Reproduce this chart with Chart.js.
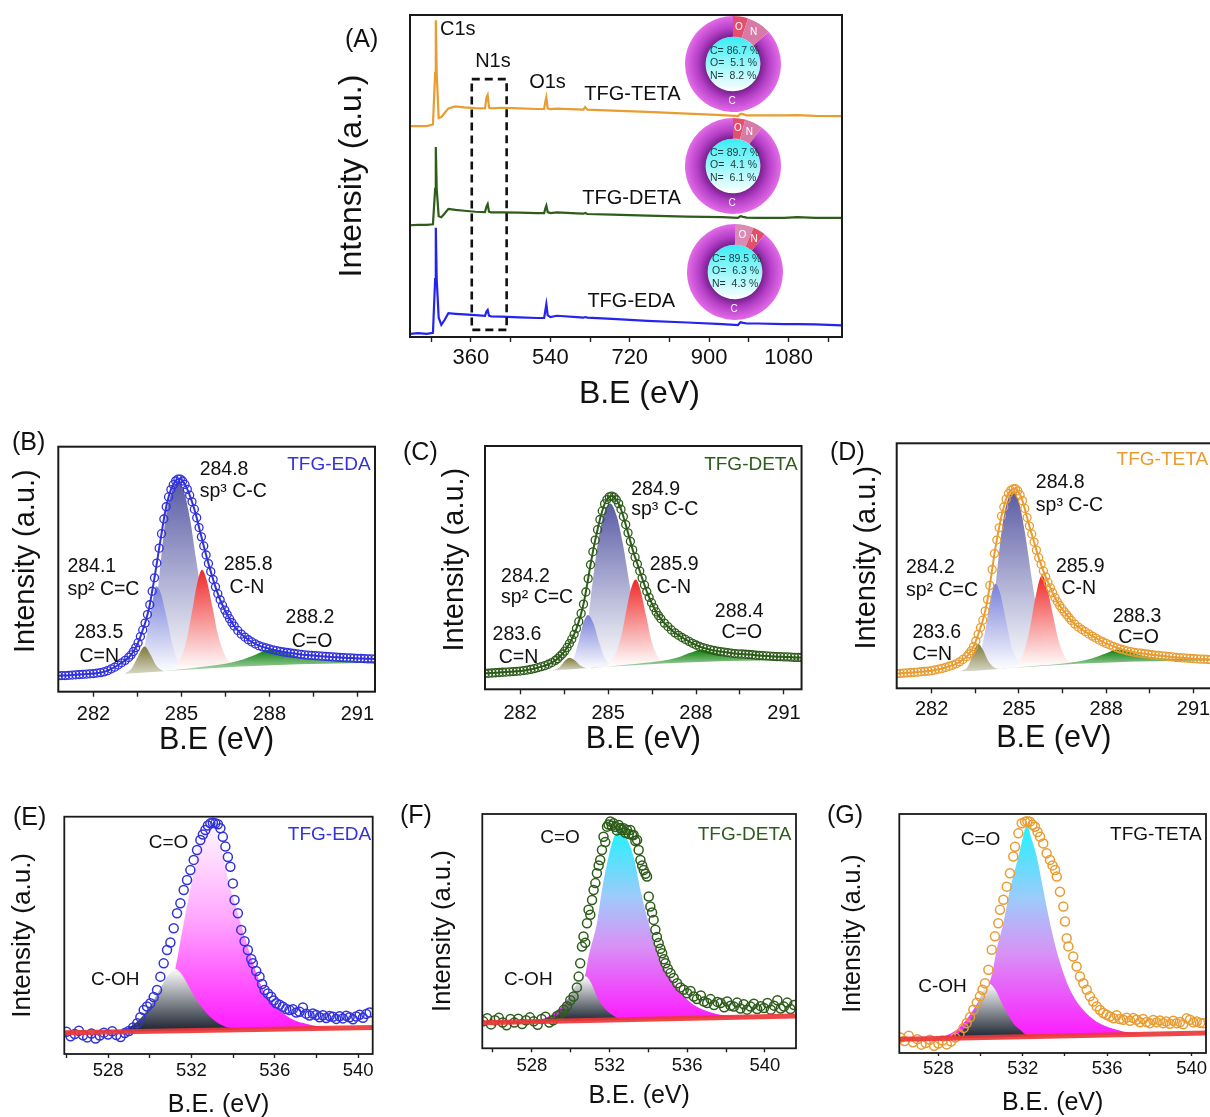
<!DOCTYPE html>
<html>
<head>
<meta charset="utf-8">
<script src="https://cdn.jsdelivr.net/npm/chart.js@4.4.1/dist/chart.umd.min.js"></script>
<style>
  html, body { margin: 0; padding: 0; background: #fff; }
  body { position: relative; width: 1210px; height: 1117px; overflow: hidden; }
  canvas { position: absolute; }
</style>
</head>
<body>
<canvas id="surveyChart"></canvas>
<canvas id="donutTeta"></canvas>
<canvas id="donutDeta"></canvas>
<canvas id="donutEda"></canvas>
<canvas id="c1sEdaChart"></canvas>
<canvas id="c1sDetaChart"></canvas>
<canvas id="c1sTetaChart"></canvas>
<canvas id="o1sEdaChart"></canvas>
<canvas id="o1sDetaChart"></canvas>
<canvas id="o1sTetaChart"></canvas>
<script>
// ---- survey spectra (A) ----
const surveyX = [222, 240, 260, 274, 279, 280.5, 282.5, 287, 293, 300, 309, 325, 345, 370, 392, 395.5, 398, 401, 406, 430,
  470, 510, 526, 528.5, 531, 534, 540, 555, 600, 615, 619, 624, 680, 760, 850, 930, 965, 971, 977, 985, 1010, 1070, 1100, 1140, 1201];
const surveyEda = [1.0, 1.2, 1.0, 1.3, 18, 33.9, 18, 6.0, 3.8, 5.2, 7.4, 7.2, 7.0, 6.8, 6.6, 8.0, 8.4, 6.6, 6.4, 6.3,
  6.1, 5.9, 5.9, 8.0, 10.2, 6.8, 6.2, 6.6, 6.2, 6.0, 6.2, 6.0, 5.6, 5.0, 4.5, 4.0, 3.7, 4.6, 4.4, 4.2, 4.2, 4.0, 4.0, 3.9, 3.6];
const surveyDeta = [34.7, 34.8, 34.8, 35.0, 46, 59.0, 46, 37.5, 37.2, 38.3, 39.8, 39.5, 39.2, 38.9, 38.8, 40.6, 41.3, 38.9, 38.7, 38.7,
  38.6, 38.5, 38.5, 39.8, 40.8, 38.8, 38.5, 38.7, 38.4, 38.3, 38.5, 38.2, 38.0, 37.7, 37.4, 37.2, 37.0, 37.5, 37.3, 37.1, 37.0, 37.0, 37.2, 37.0, 37.0];
const surveyTeta = [65.5, 65.5, 65.5, 66.0, 82, 98.4, 82, 68.0, 68.3, 69.5, 71.0, 71.6, 71.3, 71.1, 71.0, 74.5, 75.2, 71.2, 71.0, 71.2,
  71.0, 70.8, 70.8, 73.0, 74.5, 71.0, 70.8, 70.9, 70.7, 70.6, 71.4, 70.6, 70.3, 69.9, 69.4, 68.9, 68.6, 69.3, 69.2, 68.8, 68.8, 68.8, 68.9, 68.7, 68.6];
const surveyTicks = [360, 540, 720, 900, 1080];
const nBoxEnergy = [362, 441];
const nBoxLevel = [2.2, 80.1];

// element shares (O, N, C) for the doughnuts
const donutParts = ['O', 'N', 'C'];
const tetaShare = [5.1, 8.2, 86.7];
const detaShare = [4.1, 6.1, 89.7];
const edaShare = [6.3, 4.3, 89.5];

// ---- C1s (B, C, D) ----
const c1sTicks = [282, 285, 288, 291];
const c1sX = [280.8, 280.92, 281.04, 281.16, 281.28, 281.4, 281.52, 281.64, 281.76, 281.88, 282.0, 282.12, 282.24, 282.36, 282.48, 282.6, 282.72, 282.84, 282.96, 283.08, 283.2,
  283.28, 283.36, 283.44, 283.52, 283.6, 283.68, 283.76, 283.84, 283.92, 284.0, 284.08, 284.16, 284.24, 284.32, 284.4, 284.48, 284.56, 284.64, 284.72, 284.8,
  284.88, 284.96, 285.04, 285.12, 285.2, 285.28, 285.36, 285.44, 285.52, 285.6, 285.68, 285.76, 285.84, 285.92, 286.0, 286.08, 286.16, 286.24, 286.32, 286.4,
  286.48, 286.56, 286.64, 286.72, 286.8,
  286.92, 287.04, 287.16, 287.28, 287.4, 287.52, 287.64, 287.76, 287.88, 288.0, 288.12, 288.24, 288.36, 288.48, 288.6, 288.72, 288.84, 288.96, 289.08, 289.2,
  289.32, 289.44, 289.56, 289.68, 289.8, 289.92, 290.04, 290.16, 290.28, 290.4, 290.52, 290.64, 290.76, 290.88, 291.0, 291.12, 291.24, 291.36, 291.48, 291.6];
const edaC1s = [6.5, 6.6, 6.6, 6.7, 6.8, 6.9, 7.0, 7.1, 7.2, 7.3, 7.4, 7.6, 7.8, 8.1, 8.6, 9.3, 10.0, 10.9, 11.8, 12.8, 14.0,
  15.0, 16.4, 18.0, 20.0, 22.5, 25.2, 28.0, 31.5, 35.5, 41.0, 46.5, 52.5, 58.6, 64.5, 70.5, 75.5, 79.5, 82.5, 84.5, 86.0,
  86.8, 86.8, 86.0, 84.6, 82.6, 80.2, 77.5, 74.5, 71.0, 67.0, 63.2, 59.5, 55.8, 52.3, 49.0, 45.8, 42.8, 40.0, 37.5, 35.3,
  33.3, 31.5, 29.8, 28.2, 26.8,
  25.0, 23.5, 22.3, 21.2, 20.3, 19.5, 18.8, 18.3, 17.9, 17.5, 17.1, 16.8, 16.5, 16.2, 16.0, 15.8, 15.6, 15.4, 15.2, 15.0,
  14.9, 14.8, 14.7, 14.6, 14.5, 14.4, 14.3, 14.2, 14.1, 14.0, 13.9, 13.8, 13.8, 13.7, 13.6, 13.6, 13.5, 13.4, 13.4, 13.3];
const detaC1s = [6.5, 6.6, 6.7, 6.8, 6.9, 7.0, 7.1, 7.2, 7.3, 7.4, 7.5, 7.7, 7.9, 8.2, 8.5, 8.9, 9.3, 9.7, 10.3, 11.0, 11.9,
  12.6, 13.6, 14.5, 15.7, 17.2, 18.8, 20.6, 22.6, 25.0, 27.8, 31.2, 35.0, 40.0, 45.5, 51.2, 56.5, 61.3, 65.6, 69.8, 73.3,
  76.2, 78.0, 79.1, 79.4, 79.0, 77.9, 76.3, 74.0, 71.0, 67.7, 64.3, 60.8, 57.3, 54.3, 51.5, 48.6, 45.7, 42.9, 40.2, 37.8,
  35.6, 33.6, 31.8, 30.3, 29.0,
  27.2, 25.8, 24.4, 23.2, 22.2, 21.3, 20.5, 19.7, 18.9, 18.2, 17.6, 17.1, 16.7, 16.3, 16.0, 15.7, 15.5, 15.3, 15.1, 14.9,
  14.7, 14.6, 14.5, 14.4, 14.3, 14.2, 14.0, 13.9, 13.8, 13.7, 13.6, 13.5, 13.4, 13.4, 13.3, 13.3, 13.2, 13.1, 13.1, 13.0];
const tetaC1s = [6.0, 6.1, 6.2, 6.3, 6.4, 6.5, 6.6, 6.8, 6.9, 7.0, 7.2, 7.5, 7.8, 8.1, 8.5, 9.0, 9.4, 10.0, 10.8, 11.8, 12.9,
  14.0, 15.3, 17.0, 19.3, 22.0, 24.8, 27.8, 31.5, 36.2, 42.0, 48.5, 55.0, 60.5, 65.5, 70.3, 74.0, 77.2, 79.5, 80.8, 81.4,
  81.5, 80.6, 78.9, 76.6, 73.4, 69.7, 66.2, 63.0, 59.7, 56.4, 53.3, 50.6, 47.9, 45.5, 43.2, 41.0, 39.0, 37.0, 35.3, 33.8,
  32.5, 31.2, 30.0, 28.8, 27.7,
  26.2, 25.0, 24.0, 23.1, 22.2, 21.3, 20.5, 19.7, 19.0, 18.3, 17.7, 17.1, 16.6, 16.1, 15.7, 15.3, 15.0, 14.7, 14.5, 14.3,
  14.1, 13.9, 13.7, 13.5, 13.4, 13.2, 13.1, 12.9, 12.8, 12.6, 12.5, 12.4, 12.3, 12.2, 12.1, 12.0, 11.9, 11.9, 11.8, 11.7];

// fitted components, [eV, intensity]
const edaBase = [[280.8, 6.5], [282.5, 7.0], [283.5, 7.6], [285.0, 8.9], [287.0, 10.3], [289.0, 11.2], [291.6, 11.8]];
const edaSp3 = [[283.6, 7.7], [283.85, 12], [284.05, 25], [284.25, 48], [284.45, 70], [284.65, 81], [284.88, 85.5], [285.1, 81], [285.3, 70], [285.5, 54], [285.75, 35], [286.0, 21], [286.3, 13], [286.7, 10.1]];
const edaSp2 = [[283.3, 7.5], [283.6, 12], [283.8, 22], [284.0, 36], [284.14, 43], [284.3, 40], [284.5, 30], [284.7, 19], [284.9, 12], [285.2, 9.1]];
const edaCN = [[284.6, 8.6], [284.9, 12], [285.15, 20], [285.35, 32], [285.55, 45], [285.7, 49.8], [285.85, 46], [286.05, 35], [286.25, 23], [286.5, 14.5], [286.8, 11.0], [287.1, 10.4]];
const edaCdN = [[283.05, 7.3], [283.3, 9.5], [283.5, 14], [283.74, 18.5], [283.95, 15], [284.15, 10.5], [284.4, 8.3]];
const edaCO = [[284.2, 8.2], [285.0, 9.2], [285.8, 10.3], [286.5, 11.4], [287.0, 12.8], [287.5, 15.0], [288.0, 17.1], [288.5, 16.0], [289.0, 14.3], [289.5, 13.3], [290.2, 12.8], [291.6, 12.4]];

const detaBase = [[280.8, 6.5], [283.5, 8.0], [285.0, 9.3], [287.0, 10.7], [289.0, 11.6], [291.6, 12.0]];
const detaSp3 = [[283.8, 8.3], [284.05, 12], [284.25, 22], [284.45, 42], [284.65, 60], [284.85, 72], [285.07, 76.4], [285.3, 71], [285.5, 60], [285.75, 42], [286.0, 26], [286.25, 16], [286.55, 11.5], [286.9, 10.6]];
const detaSp2 = [[283.5, 8.0], [283.8, 12], [284.0, 20], [284.15, 27], [284.31, 30.5], [284.5, 27], [284.7, 19], [284.9, 12.5], [285.2, 9.6]];
const detaCN = [[284.9, 9.3], [285.2, 13], [285.45, 22], [285.65, 34], [285.8, 42], [285.94, 45.1], [286.1, 41], [286.3, 30], [286.5, 19], [286.75, 12.5], [287.1, 10.7]];
const detaCdN = [[283.1, 7.7], [283.35, 9.2], [283.55, 12], [283.68, 13], [283.85, 12], [284.05, 9.8], [284.3, 8.5]];
const detaCO = [[284.4, 8.6], [285.2, 9.6], [286.0, 10.5], [286.8, 11.6], [287.4, 13.2], [287.8, 15.0], [288.18, 16.3], [288.6, 15.2], [289.1, 13.6], [289.6, 12.8], [290.4, 12.5], [291.6, 12.4]];

const tetaBase = [[280.8, 6.0], [283.5, 7.2], [285.0, 8.5], [287.0, 10.0], [289.0, 10.9], [291.6, 11.3]];
const tetaSp3 = [[283.6, 7.3], [283.85, 12], [284.05, 25], [284.25, 48], [284.45, 68], [284.65, 78], [284.82, 80.1], [285.0, 76], [285.2, 64], [285.45, 44], [285.7, 26], [285.95, 15], [286.25, 10.5], [286.6, 9.6]];
const tetaSp2 = [[283.3, 7.1], [283.6, 11], [283.85, 24], [284.05, 38], [284.19, 42.7], [284.35, 39], [284.55, 28], [284.75, 17], [285.0, 10.5], [285.3, 8.8]];
const tetaCN = [[284.8, 8.4], [285.1, 12.5], [285.35, 23], [285.55, 36], [285.7, 44], [285.79, 46.1], [285.95, 42], [286.15, 31], [286.35, 20], [286.6, 12.5], [286.95, 10.0]];
const tetaCdN = [[283.0, 6.9], [283.25, 9.0], [283.45, 15], [283.59, 18.2], [283.75, 16], [283.95, 11], [284.2, 8.2], [284.4, 7.9]];
const tetaCO = [[284.4, 7.9], [285.2, 8.8], [286.0, 9.5], [286.8, 10.5], [287.5, 12.2], [288.0, 14.3], [288.41, 15.8], [288.8, 14.8], [289.3, 13.2], [289.9, 12.3], [290.6, 12.0], [291.6, 11.8]];

// ---- O1s (E, F, G) ----
const o1sTicks = [528, 532, 536, 540];
const edaO1sX = [526.0, 526.2, 526.4, 526.6, 526.8, 527.0, 527.2, 527.4, 527.6, 527.8, 528.0, 528.2, 528.4, 528.6, 528.8, 529.0, 529.2, 529.4,
  529.55, 529.71, 529.87, 530.03, 530.19, 530.35, 530.51, 530.67, 530.83, 530.99, 531.15, 531.31, 531.47, 531.63, 531.79, 531.95, 532.11, 532.27,
  532.43, 532.55, 532.67, 532.79, 532.91, 533.03, 533.15, 533.27, 533.39, 533.51, 533.63, 533.75, 533.87, 533.99, 534.07, 534.23, 534.39, 534.55,
  534.71, 534.87, 534.95, 535.11, 535.27, 535.39, 535.51, 535.67, 535.83, 535.95, 536.07, 536.23, 536.39, 536.55, 536.71, 536.87, 537.03, 537.19,
  537.35, 537.51, 537.67, 537.83, 537.99, 538.15, 538.31, 538.47, 538.63, 538.79, 538.95, 539.11, 539.27, 539.43, 539.59, 539.75, 539.91, 540.07,
  540.23, 540.39, 540.55];
const edaO1s = [9.4, 7.5, 8.4, 9.8, 7.9, 7.0, 8.6, 6.5, 7.8, 9.0, 8.2, 9.6, 8.0, 7.2, 8.8, 9.7, 11.2, 13.0,
  15.5, 18.5, 20.0, 21.4, 24.0, 27.0, 32.6, 38.2, 43.8, 47.0, 53.0, 59.3, 63.5, 69.1, 73.3, 77.5, 81.8, 86.0,
  90.2, 92.5, 94.4, 96.3, 97.2, 97.5, 97.2, 96.8, 95.1, 91.5, 87.4, 83.0, 78.9, 71.9, 64.9, 59.3, 52.3, 47.5,
  43.8, 40.0, 38.2, 35.0, 32.6, 29.5, 27.0, 25.5, 24.1, 22.5, 21.4, 20.8, 19.9, 19.0, 18.5, 18.9, 17.5, 17.8,
  19.6, 17.0, 16.2, 17.1, 16.4, 15.5, 16.3, 15.2, 16.0, 15.7, 14.8, 15.9, 15.0, 16.1, 15.5, 14.6, 15.8, 16.5,
  15.3, 16.9, 17.5];
const detaO1sX = [525.5, 525.7, 525.9, 526.1, 526.3, 526.5, 526.7, 526.9, 527.1, 527.3, 527.5, 527.7, 527.9, 528.1, 528.3, 528.5, 528.7, 528.9, 529.1, 529.3,
  529.46, 529.64, 529.81, 529.98, 530.15, 530.32, 530.41, 530.49, 530.58, 530.66, 530.75, 530.84, 530.92, 531.01, 531.1, 531.18, 531.27, 531.35, 531.44, 531.52,
  531.61, 531.69, 531.78, 531.87, 531.95, 532.04, 532.12, 532.21, 532.3, 532.38, 532.47, 532.56, 532.64, 532.73, 532.82, 532.9, 532.99, 533.07, 533.16, 533.24,
  533.33, 533.42, 533.5, 533.59, 533.68, 533.76, 533.85, 533.93, 534.02, 534.1, 534.19, 534.27, 534.36, 534.44, 534.53, 534.62, 534.71, 534.8, 534.88, 535.0,
  535.14, 535.3, 535.48, 535.65, 535.82, 536.0, 536.17, 536.34, 536.5, 536.7, 536.86, 537.03, 537.2, 537.38, 537.55, 537.72, 537.9, 538.06, 538.23, 538.4,
  538.57, 538.74, 538.91, 539.08, 539.26, 539.43, 539.6, 539.78, 539.95, 540.13, 540.3, 540.47, 540.64, 540.81, 540.98, 541.15, 541.32, 541.5];
const detaO1s = [11.5, 12.8, 10.2, 12.0, 13.0, 11.0, 9.8, 12.5, 11.0, 12.6, 10.4, 12.0, 13.2, 11.5, 10.0, 12.5, 13.5, 11.0, 12.0, 13.8,
  14.5, 16.4, 18.0, 20.5, 22.1, 26.0, 30.6, 36.3, 43.4, 47.7, 45.0, 53.4, 59.1, 57.0, 63.3, 67.6, 70.5, 74.7, 78.0, 80.4,
  84.6, 90.3, 88.0, 94.6, 95.5, 96.8, 95.0, 96.0, 94.5, 93.0, 95.3, 94.0, 93.2, 93.9, 92.0, 93.2, 91.5, 93.2, 91.0, 91.0,
  88.5, 88.9, 84.6, 80.4, 78.0, 76.1, 74.5, 73.3, 64.8, 60.5, 58.0, 54.8, 50.6, 47.5, 44.9, 42.5, 40.6, 38.0, 36.3, 34.0,
  32.1, 30.0, 27.8, 26.0, 25.0, 23.5, 24.5, 22.1, 21.0, 22.5, 20.0, 19.3, 21.0, 18.5, 19.8, 19.3, 17.5, 20.0, 18.2, 17.8,
  19.5, 17.0, 18.8, 16.5, 17.8, 19.0, 16.8, 18.0, 17.2, 19.3, 16.5, 18.2, 20.5, 17.0, 17.8, 19.5, 16.8, 18.5];
const tetaO1sX = [526.2, 526.4, 526.6, 526.8, 527.0, 527.2, 527.4, 527.6, 527.8, 528.0, 528.2, 528.4, 528.6, 528.8, 529.0, 529.2,
  529.34, 529.5, 529.66, 529.82, 529.97, 530.09, 530.21, 530.37, 530.53, 530.68, 530.84, 530.92, 531.08, 531.24, 531.39, 531.55, 531.63, 531.79, 531.95,
  532.11, 532.22, 532.34, 532.46, 532.58, 532.7, 532.82, 532.97, 533.13, 533.29, 533.41, 533.53, 533.61, 533.76, 533.92, 534.0, 534.08, 534.16, 534.39, 534.55,
  534.71, 534.87, 535.03, 535.18, 535.34, 535.5, 535.66, 535.81, 535.97, 536.13, 536.3, 536.45, 536.6, 536.76, 536.92, 537.08, 537.24, 537.39, 537.55, 537.7,
  537.86, 538.02, 538.18, 538.34, 538.5, 538.65, 538.8, 538.97, 539.13, 539.29, 539.45, 539.6, 539.76, 539.92, 540.08, 540.24, 540.4, 540.55];
const tetaO1s = [6.5, 5.0, 7.2, 4.5, 5.8, 3.5, 4.2, 5.5, 3.0, 4.0, 5.2, 3.6, 4.8, 6.5, 7.8, 10.5,
  12.5, 15.0, 18.1, 21.0, 23.7, 26.5, 29.2, 34.8, 43.2, 48.8, 54.3, 59.9, 64.1, 69.6, 75.2, 82.2, 86.3, 91.9, 96.1,
  96.8, 97.0, 96.8, 95.5, 94.7, 92.5, 90.5, 87.7, 83.6, 80.8, 78.5, 76.6, 73.8, 67.5, 61.3, 55.0, 48.0, 44.6, 40.4, 36.2,
  32.0, 29.2, 26.5, 23.7, 21.5, 19.5, 18.0, 16.7, 16.0, 15.3, 14.5, 15.8, 14.2, 13.9, 14.8, 13.5, 14.6, 13.9, 12.9, 14.2,
  13.0, 12.5, 13.8, 12.8, 13.6, 12.5, 13.2, 12.2, 13.5, 12.5, 13.0, 12.0, 14.5, 13.9, 12.8, 13.2, 12.6, 12.5];

const edaO1sBase = [[525.9, 9.0], [540.7, 11.2]];
const edaO1sCO = [[529.0, 9.6], [529.5, 10.5], [530.0, 13], [530.5, 19], [531.0, 29], [531.25, 37], [531.5, 49], [531.8, 63], [532.1, 76], [532.4, 89], [532.7, 95.5], [532.95, 96.5],
  [533.2, 94], [533.5, 84], [533.8, 72], [534.2, 60], [534.6, 48], [535.0, 37], [535.5, 26], [536.0, 20.5], [536.5, 16.5], [537.0, 14], [537.5, 12.8], [538.0, 11.8], [538.5, 11.3], [539.0, 11.0], [540.7, 11.2]];
const edaO1sCOH = [[528.5, 9.8], [529.0, 11.2], [529.5, 14.5], [530.0, 20], [530.5, 27.5], [530.9, 33.5], [531.2, 36], [531.5, 34], [531.9, 28], [532.3, 22], [532.7, 17.5], [533.2, 13.5], [533.7, 11.3], [534.5, 10.3]];
const detaO1sBase = [[525.45, 10.9], [541.6, 13.8]];
const detaO1sCO = [[527.5, 11.3], [528.4, 12.1], [529.3, 16.0], [529.9, 21.5], [530.4, 27.0], [530.75, 31.5], [530.92, 39.2], [531.35, 53.4], [531.61, 67.6], [531.95, 81.8], [532.25, 90.5], [532.56, 93.2],
  [532.85, 90.0], [533.24, 81.8], [533.59, 67.6], [534.02, 53.4], [534.53, 39.2], [535.31, 27.8], [535.8, 22.5], [536.34, 18.5], [537.37, 15.0], [538.2, 13.8], [539.5, 13.5], [541.6, 13.8]];
const detaO1sCOH = [[528.3, 11.3], [528.94, 12.2], [529.3, 14], [529.63, 17.8], [530.0, 23], [530.4, 28.5], [530.75, 30.8], [531.05, 28], [531.35, 22.1], [531.7, 17.5], [532.04, 14.8], [532.5, 12.6], [532.9, 12.0], [533.6, 12.4]];
const tetaO1sBase = [[526.15, 5.8], [540.7, 8.4]];
const tetaO1sCO = [[527.3, 6.0], [527.92, 6.4], [528.87, 9.7], [529.66, 18.1], [530.1, 25.0], [530.53, 32.5], [530.76, 43.2], [531.08, 54.3], [531.39, 68.3], [531.79, 82.2], [532.0, 90.0], [532.19, 95.4],
  [532.4, 90.0], [532.66, 82.2], [532.97, 68.3], [533.29, 54.3], [533.68, 40.4], [534.24, 26.5], [535.18, 15.3], [536.45, 9.7], [537.71, 8.0], [539.0, 8.0], [540.7, 8.4]];
const tetaO1sCOH = [[528.5, 6.3], [529.18, 9.7], [529.5, 13.5], [529.82, 19.5], [530.1, 25.5], [530.37, 29.2], [530.7, 26.5], [531.0, 21.0], [531.3, 16.0], [531.55, 12.5], [531.9, 9.5], [532.19, 7.5], [532.7, 7.2]];

// ---- styling ----
const FONT = '"Liberation Sans", Arial, Helvetica, sans-serif';
Chart.defaults.font.family = FONT;
Chart.defaults.color = '#111';

const EDA_BLUE = '#3232dc';
const DETA_GREEN = '#2e5c1a';
const TETA_ORANGE = '#e99c30';
const FADE_WHITE = 'rgba(255,255,255,0.95)';

function place(id, b) {
  const c = document.getElementById(id);
  c.width = b.w;
  c.height = b.h;
  c.style.left = b.x + 'px';
  c.style.top = b.y + 'px';
  return c;
}

function toPoints(xs, ys) {
  return xs.map((x, i) => ({x, y: ys[i]}));
}

function pairPoints(list) {
  return list.map(([x, y]) => ({x, y}));
}

// vertical gradient from a component's top down to its base
function fade(stops, topVal, botVal) {
  return (c) => {
    const chart = c.chart;
    const ys = chart.scales.y;
    if (!chart.chartArea || !ys) return stops[0][1];
    const y0 = ys.getPixelForValue(topVal);
    const y1 = ys.getPixelForValue(botVal);
    if (!isFinite(y0) || !isFinite(y1)) return stops[0][1];
    const g = chart.ctx.createLinearGradient(0, y0, 0, y1);
    stops.forEach(([o, col]) => g.addColorStop(o, col));
    return g;
  };
}

function xAxis(o) {
  return {
    type: 'linear', position: 'bottom', min: o.min, max: o.max,
    afterFit(s) { s.height = o.h; },
    border: {display: false},
    grid: {drawOnChartArea: false, drawTicks: true, tickLength: o.tickLen, tickWidth: 1.4, tickColor: '#222'},
    ticks: {
      stepSize: o.step, includeBounds: false, autoSkip: false, maxRotation: 0, minRotation: 0,
      padding: o.tickPad, color: '#111', font: {size: o.tickSize},
      callback: v => o.labels.includes(v) ? String(v) : ''
    },
    title: {display: true, text: o.title, color: '#111', font: {size: o.titleSize}, padding: {top: 0, bottom: o.titlePad}}
  };
}

function yAxis(o) {
  return {
    type: 'linear', position: 'left', min: 0, max: 100,
    afterFit(s) { s.width = o.w; },
    border: {display: false},
    grid: {display: false},
    ticks: {display: false},
    title: {display: true, text: o.title, color: '#111', font: {size: o.titleSize}, padding: {top: o.titlePad, bottom: 0}}
  };
}

function baseOptions(pad, scales) {
  return {
    responsive: false, animation: false, devicePixelRatio: 1, events: [],
    layout: {padding: {top: pad.t, right: pad.r, bottom: 0, left: 0}},
    plugins: {legend: {display: false}, tooltip: {enabled: false}},
    scales
  };
}

function framePlugin(width) {
  return {
    id: 'frame',
    afterDatasetsDraw(chart) {
      const {ctx, chartArea: a} = chart;
      ctx.save();
      ctx.strokeStyle = '#1a1a1a';
      ctx.lineWidth = width;
      ctx.strokeRect(a.left, a.top, a.right - a.left, a.bottom - a.top);
      ctx.restore();
    }
  };
}

function notesPlugin(notes, size, tag) {
  return {
    id: 'notes',
    afterDraw(chart) {
      const {ctx} = chart;
      const xs = chart.scales.x, ys = chart.scales.y;
      ctx.save();
      ctx.textBaseline = 'alphabetic';
      notes.forEach(n => {
        ctx.font = `${n.size || size}px ${FONT}`;
        ctx.fillStyle = n.color || '#111';
        ctx.textAlign = n.align || 'left';
        ctx.fillText(n.text, xs.getPixelForValue(n.x), ys.getPixelForValue(n.y));
      });
      if (tag) {
        ctx.font = `${tag.size}px ${FONT}`;
        ctx.fillStyle = '#111';
        ctx.textAlign = 'left';
        ctx.fillText(tag.text, tag.x, tag.y);
      }
      ctx.restore();
    }
  };
}

// ---- (A) survey ----
function initializeSurveyChart() {
  const box = {x: 330, y: 0, w: 520, h: 415};
  const canvas = place('surveyChart', box);
  const line = (ys, color) => ({
    data: toPoints(surveyX, ys), borderColor: color, borderWidth: 2.2, pointRadius: 0, tension: 0, fill: false, clip: 0
  });
  const boxPlugin = {
    id: 'nBox',
    afterDatasetsDraw(chart) {
      const {ctx, scales: {x, y}} = chart;
      const x0 = x.getPixelForValue(nBoxEnergy[0]), x1 = x.getPixelForValue(nBoxEnergy[1]);
      const y0 = y.getPixelForValue(nBoxLevel[1]), y1 = y.getPixelForValue(nBoxLevel[0]);
      ctx.save();
      ctx.setLineDash([8, 5]);
      ctx.lineWidth = 2.6;
      ctx.strokeStyle = '#111';
      ctx.strokeRect(x0, y0, x1 - x0, y1 - y0);
      ctx.restore();
    }
  };
  const notes = [
    {text: 'C1s', x: 290, y: 93.8},
    {text: 'N1s', x: 369.6, y: 83.9},
    {text: 'O1s', x: 492, y: 77.3},
    {text: 'TFG-TETA', x: 617, y: 73.6},
    {text: 'TFG-DETA', x: 612.6, y: 41.3},
    {text: 'TFG-EDA', x: 624, y: 9.3}
  ];
  new Chart(canvas, {
    type: 'line',
    data: {datasets: [line(surveyTeta, TETA_ORANGE), line(surveyDeta, DETA_GREEN), line(surveyEda, '#2424ee')]},
    options: baseOptions({t: 15, r: 8}, {
      x: xAxis({min: 222, max: 1201, step: 90, labels: surveyTicks, h: 78, tickLen: 5, tickPad: 3, tickSize: 22,
        title: '   B.E (eV)', titleSize: 32, titlePad: 2}),
      y: yAxis({w: 80, title: 'Intensity (a.u.)', titleSize: 32, titlePad: 3.3})
    }),
    plugins: [boxPlugin, framePlugin(2), notesPlugin(notes, 20, {text: '(A)', x: 15, y: 47, size: 25})]
  });
}

// ring + inner disc doughnuts
function ringColor(c, sliceColors) {
  if (c.dataIndex < 2) return sliceColors[c.dataIndex];
  const a = c.chart.chartArea;
  if (!a) return '#d35ddc';
  const cx = (a.left + a.right) / 2, cy = (a.top + a.bottom) / 2;
  const r = Math.min(a.right - a.left, a.bottom - a.top) / 2;
  const g = c.chart.ctx.createRadialGradient(cx, cy, r * 0.57, cx, cy, r);
  g.addColorStop(0, '#7a2090');
  g.addColorStop(0.4, '#b43fc6');
  g.addColorStop(1, '#e46ce9');
  return g;
}

function donutText(share) {
  return {
    id: 'donutText',
    beforeDatasetsDraw(chart) {
      const arc = chart.getDatasetMeta(0).data[0];
      if (!arc) return;
      const ctx = chart.ctx;
      const r = arc.innerRadius;
      const g = ctx.createLinearGradient(0, arc.y - r, 0, arc.y + r);
      g.addColorStop(0, '#36eef4');
      g.addColorStop(1, '#ffffff');
      ctx.save();
      ctx.beginPath();
      ctx.arc(arc.x, arc.y, r, 0, Math.PI * 2);
      ctx.fillStyle = g;
      ctx.fill();
      ctx.restore();
    },
    afterDatasetsDraw(chart) {
      const meta = chart.getDatasetMeta(0);
      const ctx = chart.ctx;
      const arc = meta.data[0];
      ctx.save();
      ctx.fillStyle = '#ffffff';
      ctx.font = `10px ${FONT}`;
      ctx.textAlign = 'center';
      ctx.textBaseline = 'middle';
      [0, 1].forEach(i => {
        const p = meta.data[i].getCenterPoint();
        ctx.fillText(donutParts[i], p.x, p.y);
      });
      ctx.fillText('C', arc.x - 1, arc.y + (arc.innerRadius + arc.outerRadius) / 2);
      ctx.fillStyle = '#183a3c';
      ctx.font = `10.5px ${FONT}`;
      ctx.textAlign = 'left';
      const lines = [`C= ${share[2]} %`, `O=  ${share[0]} %`, `N=  ${share[1]} %`];
      lines.forEach((t, k) => ctx.fillText(t, arc.x - 23, arc.y - 13 + k * 12.5));
      ctx.restore();
    }
  };
}

function initializeDonut(id, box, share, sliceColors) {
  const canvas = place(id, box);
  new Chart(canvas, {
    type: 'doughnut',
    data: {labels: donutParts, datasets: [{data: share, borderWidth: 0, backgroundColor: c => ringColor(c, sliceColors)}]},
    options: {
      responsive: false, animation: false, devicePixelRatio: 1, events: [], cutout: '57%',
      plugins: {legend: {display: false}, tooltip: {enabled: false}}
    },
    plugins: [donutText(share)]
  });
}

// ---- (B)(C)(D) C1s ----
function component(list, stops, order) {
  const ys = list.map(p => p[1]);
  return {
    data: pairPoints(list), borderWidth: 0, borderColor: 'rgba(0,0,0,0)', pointRadius: 0,
    cubicInterpolationMode: 'monotone', fill: {target: 7},
    backgroundColor: fade(stops, Math.max(...ys), Math.min(...ys)), order, clip: 0
  };
}

function initializeC1sChart(cfg) {
  const canvas = place(cfg.id, cfg.box);
  const counts = toPoints(c1sX, cfg.counts);
  const datasets = [
    {data: counts, showLine: false, pointStyle: 'circle', pointRadius: 4, pointBorderWidth: 1.3,
      pointBackgroundColor: 'rgba(0,0,0,0)', pointBorderColor: cfg.color, order: 1, clip: 0},
    {data: counts, borderColor: cfg.color, borderWidth: 2, pointRadius: 0, cubicInterpolationMode: 'monotone', fill: false, order: 0, clip: 0},
    component(cfg.co, [[0, '#0c800c'], [1, '#b8dcb8']], 2),
    component(cfg.cdn, [[0, '#7d7838'], [1, '#d6d6c4']], 3),
    component(cfg.cn, [[0, '#f02828'], [1, FADE_WHITE]], 4),
    component(cfg.sp2, [[0, '#7880da'], [1, FADE_WHITE]], 5),
    component(cfg.sp3, [[0, '#5a5ca6'], [1, FADE_WHITE]], 6),
    {data: pairPoints(cfg.base), borderColor: 'rgba(0,0,0,0)', borderWidth: 0, pointRadius: 0, fill: false, order: 7, clip: 0}
  ];
  new Chart(canvas, {
    type: 'line',
    data: {datasets},
    options: baseOptions(cfg.pad, {
      x: xAxis({min: 280.8, max: 291.6, step: 1.5, labels: c1sTicks, h: cfg.xh, tickLen: 5, tickPad: cfg.tickPad, tickSize: 20,
        title: 'B.E (eV)', titleSize: 30.5, titlePad: cfg.xTitlePad}),
      y: yAxis({w: cfg.yw, title: '  Intensity (a.u.)', titleSize: 29, titlePad: cfg.yTitlePad})
    }),
    plugins: [framePlugin(2), notesPlugin(cfg.notes, 19.5, cfg.tag)]
  });
}

// ---- (E)(F)(G) O1s ----
function o1sComponent(list, stops, order) {
  const ys = list.map(p => p[1]);
  return {
    data: pairPoints(list), borderWidth: 0, borderColor: 'rgba(0,0,0,0)', pointRadius: 0,
    cubicInterpolationMode: 'monotone', fill: {target: 0},
    backgroundColor: fade(stops, Math.max(...ys), Math.min(...ys)), order, clip: 0
  };
}

function initializeO1sChart(cfg) {
  const canvas = place(cfg.id, cfg.box);
  const datasets = [
    {data: pairPoints(cfg.base), borderColor: 'rgba(236,56,56,0.92)', borderWidth: 5, pointRadius: 0, fill: false, order: 0, clip: 0},
    {data: toPoints(cfg.xs, cfg.counts), showLine: false, pointStyle: 'circle', pointRadius: 4.5, pointBorderWidth: 1.5,
      pointBackgroundColor: 'rgba(0,0,0,0)', pointBorderColor: cfg.color, order: 1, clip: 0},
    o1sComponent(cfg.coh, [[0, '#ffffff'], [1, '#1b2330']], 2),
    o1sComponent(cfg.co, cfg.coStops, 3)
  ];
  new Chart(canvas, {
    type: 'line',
    data: {datasets},
    options: baseOptions(cfg.pad, {
      x: xAxis({min: cfg.min, max: cfg.max, step: 2, labels: o1sTicks, h: cfg.xh, tickLen: cfg.tickLen, tickPad: cfg.tickPad, tickSize: 18.5,
        title: 'B.E. (eV)', titleSize: 25, titlePad: cfg.xTitlePad}),
      y: yAxis({w: cfg.yw, title: 'Intensity (a.u.)', titleSize: cfg.yTitleSize, titlePad: cfg.yTitlePad})
    }),
    plugins: [framePlugin(1.8), notesPlugin(cfg.notes, 19, cfg.tag)]
  });
}

initializeSurveyChart();
initializeDonut('donutTeta', {x: 685, y: 16, w: 96, h: 96}, tetaShare, ['#e2506e', '#d77aa8']);
initializeDonut('donutDeta', {x: 685, y: 118, w: 96, h: 96}, detaShare, ['#e2506e', '#d77aa8']);
initializeDonut('donutEda', {x: 687, y: 224, w: 96, h: 96}, edaShare, ['#d98ab5', '#e0506a']);

initializeC1sChart({
  id: 'c1sEdaChart', box: {x: 0, y: 425, w: 385, h: 337}, pad: {t: 21.7, r: 10}, xh: 70.3, yw: 58.3,
  tickPad: 6, xTitlePad: 2.7, yTitlePad: 8.6, color: EDA_BLUE, counts: edaC1s,
  base: edaBase, sp3: edaSp3, sp2: edaSp2, cn: edaCN, cdn: edaCdN, co: edaCO,
  tag: {text: '(B)', x: 12, y: 24.5, size: 25},
  notes: [
    {text: '284.8', x: 285.62, y: 88.4}, {text: 'sp³ C-C', x: 285.62, y: 79.5},
    {text: '284.1', x: 281.11, y: 49}, {text: 'sp² C=C', x: 281.11, y: 39.5},
    {text: '285.8', x: 286.44, y: 49.7}, {text: 'C-N', x: 286.64, y: 40.3},
    {text: '288.2', x: 288.55, y: 28}, {text: 'C=O', x: 288.76, y: 18.4},
    {text: '283.5', x: 281.35, y: 21.9}, {text: 'C=N', x: 281.52, y: 12.2},
    {text: 'TFG-EDA', x: 291.45, y: 90.5, align: 'right', color: EDA_BLUE, size: 19}
  ]
});

initializeC1sChart({
  id: 'c1sDetaChart', box: {x: 395, y: 425, w: 413, h: 337}, pad: {t: 21, r: 6.3}, xh: 72.7, yw: 90,
  tickPad: 7, xTitlePad: 3.7, yTitlePad: 42.6, color: DETA_GREEN, counts: detaC1s,
  base: detaBase, sp3: detaSp3, sp2: detaSp2, cn: detaCN, cdn: detaCdN, co: detaCO,
  tag: {text: '(C)', x: 8, y: 34.5, size: 25},
  notes: [
    {text: '284.9', x: 285.79, y: 79.9}, {text: 'sp³ C-C', x: 285.79, y: 71.6},
    {text: '284.2', x: 281.35, y: 44.2}, {text: 'sp² C=C', x: 281.35, y: 35.5},
    {text: '285.9', x: 286.42, y: 49}, {text: 'C-N', x: 286.65, y: 39.5},
    {text: '288.4', x: 288.64, y: 29.8}, {text: 'C=O', x: 288.87, y: 21},
    {text: '283.6', x: 281.06, y: 20.3}, {text: 'C=N', x: 281.27, y: 10.9},
    {text: 'TFG-DETA', x: 291.47, y: 90.1, align: 'right', color: DETA_GREEN, size: 19}
  ]
});

initializeC1sChart({
  id: 'c1sTetaChart', box: {x: 825, y: 425, w: 395, h: 337}, pad: {t: 18.3, r: 9}, xh: 73.7, yw: 71.7,
  tickPad: 4, xTitlePad: 4.7, yTitlePad: 24.1, color: TETA_ORANGE, counts: tetaC1s,
  base: tetaBase, sp3: tetaSp3, sp2: tetaSp2, cn: tetaCN, cdn: tetaCdN, co: tetaCO,
  tag: {text: '(D)', x: 5, y: 34.5, size: 25},
  notes: [
    {text: '284.8', x: 285.58, y: 81.6}, {text: 'sp³ C-C', x: 285.58, y: 72.4},
    {text: '284.2', x: 281.12, y: 46.9}, {text: 'sp² C=C', x: 281.12, y: 37.7},
    {text: '285.9', x: 286.27, y: 47.6}, {text: 'C-N', x: 286.46, y: 38.5},
    {text: '288.3', x: 288.22, y: 27.2}, {text: 'C=O', x: 288.41, y: 18.4},
    {text: '283.6', x: 281.34, y: 20.4}, {text: 'C=N', x: 281.34, y: 11.6},
    {text: 'TFG-TETA', x: 291.5, y: 91.1, align: 'right', color: TETA_ORANGE, size: 19}
  ]
});

const magentaStops = [[0, '#fff6ff'], [0.45, '#ffa8ff'], [1, '#ff18ff']];
const cyanMagentaStops = [[0, '#22f2ff'], [0.35, '#9ecafa'], [0.6, '#d892f6'], [1, '#ff18ff']];

initializeO1sChart({
  id: 'o1sEdaChart', box: {x: 0, y: 795, w: 385, h: 327}, pad: {t: 21.7, r: 12.3}, xh: 68, yw: 64.3,
  min: 525.9, max: 540.7, tickLen: 4, tickPad: 2, xTitlePad: 2, yTitleSize: 26, yTitlePad: 6.9,
  color: EDA_BLUE, xs: edaO1sX, counts: edaO1s, base: edaO1sBase, co: edaO1sCO, coh: edaO1sCOH, coStops: magentaStops,
  tag: {text: '(E)', x: 13, y: 29.5, size: 25},
  notes: [
    {text: 'TFG-EDA', x: 540.63, y: 90.2, align: 'right', color: EDA_BLUE},
    {text: 'C=O', x: 529.95, y: 86.7},
    {text: 'C-OH', x: 527.18, y: 29.1}
  ]
});

initializeO1sChart({
  id: 'o1sDetaChart', box: {x: 395, y: 795, w: 410, h: 327}, pad: {t: 19, r: 9}, xh: 73.7, yw: 87.3,
  min: 525.45, max: 541.6, tickLen: 4, tickPad: 2.7, xTitlePad: 11, yTitleSize: 25.5, yTitlePad: 32.2,
  color: DETA_GREEN, xs: detaO1sX, counts: detaO1s, base: detaO1sBase, co: detaO1sCO, coh: detaO1sCOH, coStops: cyanMagentaStops,
  tag: {text: '(F)', x: 5, y: 27.7, size: 25},
  notes: [
    {text: 'TFG-DETA', x: 541.36, y: 88.9, align: 'right', color: DETA_GREEN},
    {text: 'C=O', x: 528.43, y: 87.5},
    {text: 'C-OH', x: 526.57, y: 27}
  ]
});

initializeO1sChart({
  id: 'o1sTetaChart', box: {x: 815, y: 795, w: 400, h: 327}, pad: {t: 19, r: 9}, xh: 69, yw: 84.3,
  min: 526.15, max: 540.68, tickLen: 3, tickPad: 1.5, xTitlePad: 4, yTitleSize: 25, yTitlePad: 23,
  color: TETA_ORANGE, xs: tetaO1sX, counts: tetaO1s, base: tetaO1sBase, co: tetaO1sCO, coh: tetaO1sCOH, coStops: cyanMagentaStops,
  tag: {text: '(G)', x: 12, y: 27.7, size: 25},
  notes: [
    {text: 'TFG-TETA', x: 540.47, y: 89.2, align: 'right', color: '#111'},
    {text: 'C=O', x: 529.06, y: 87},
    {text: 'C-OH', x: 527.05, y: 25.7}
  ]
});
</script>
</body>
</html>
